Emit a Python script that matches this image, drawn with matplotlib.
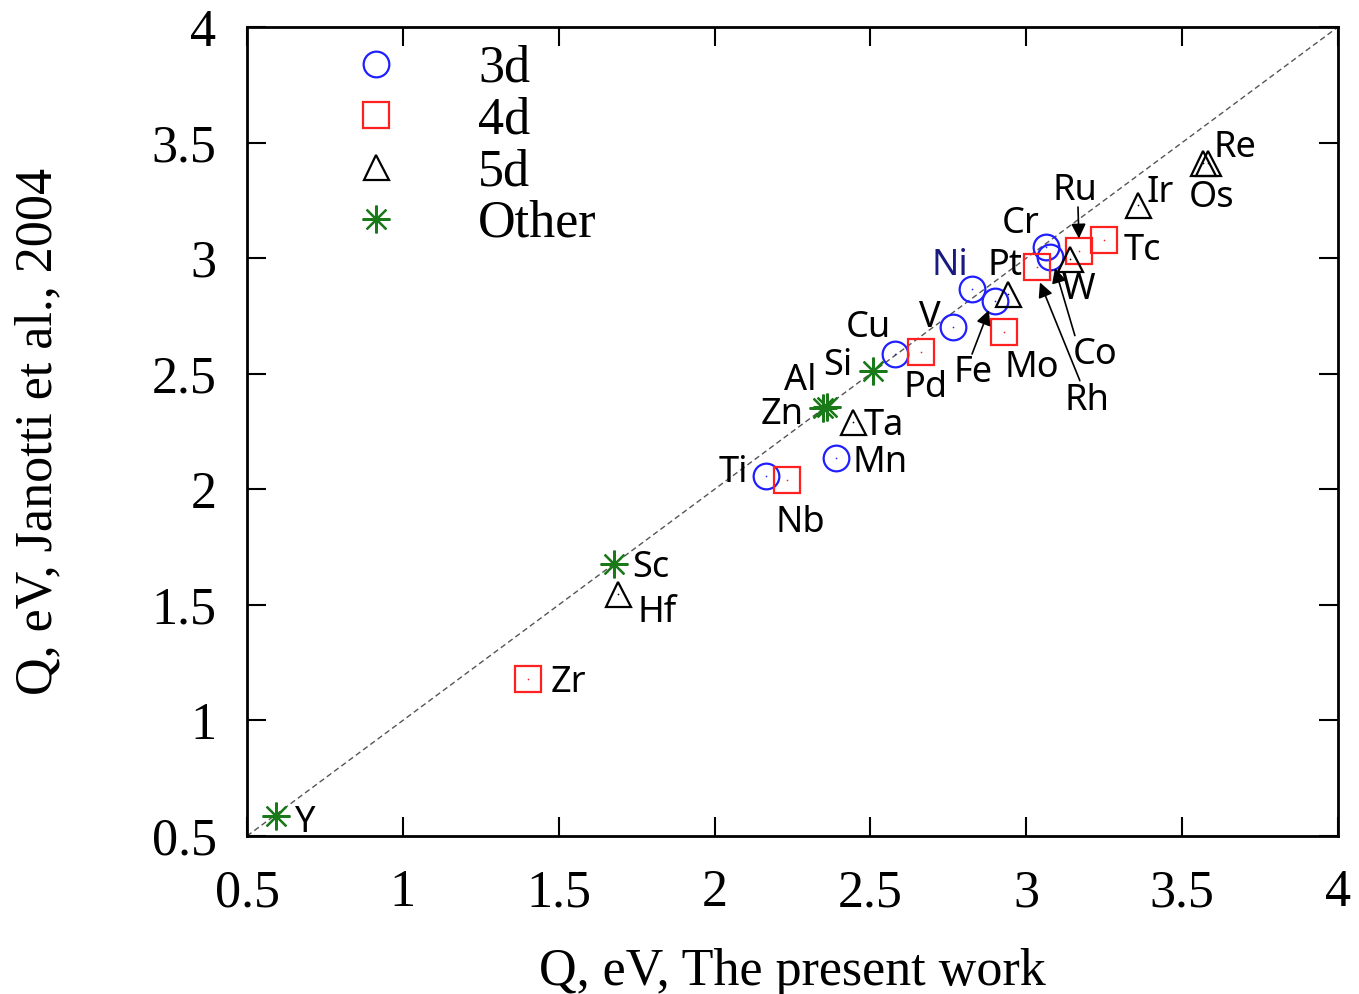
import matplotlib
matplotlib.use("Agg")
import matplotlib.pyplot as plt
import matplotlib.transforms as mtransforms

# ---- data (Q in eV): x = present work, y = Janotti et al., 2004 ----
names_3d = ["Ti", "Mn", "Cu", "V", "Ni", "Fe", "Cr", "Co"]
x_3d = [2.165, 2.39, 2.579, 2.765, 2.826, 2.90, 3.063, 3.076]
y_3d = [2.057, 2.135, 2.585, 2.70, 2.866, 2.814, 3.05, 3.006]

names_4d = ["Zr", "Nb", "Pd", "Mo", "Rh", "Ru", "Tc"]
x_4d = [1.40, 2.232, 2.662, 2.929, 3.035, 3.169, 3.249]
y_4d = [1.179, 2.04, 2.594, 2.68, 2.962, 3.03, 3.078]

names_5d = ["Hf", "Ta", "Pt", "W", "Ir", "Os", "Re"]
x_5d = [1.69, 2.444, 2.941, 3.14, 3.359, 3.567, 3.583]
y_5d = [1.545, 2.29, 2.845, 2.996, 3.23, 3.41, 3.41]

names_other = ["Y", "Sc", "Al", "Zn", "Si"]
x_other = [0.593, 1.677, 2.36, 2.348, 2.508]
y_other = [0.586, 1.676, 2.356, 2.35, 2.51]

ticks = [0.5, 1, 1.5, 2, 2.5, 3, 3.5, 4]
tick_labels = ["0.5", "1", "1.5", "2", "2.5", "3", "3.5", "4"]

# label text positions (data coords)
label_pos = {
    "Y": (0.686, 0.569), "Sc": (1.796, 1.672), "Hf": (1.815, 1.477),
    "Zr": (1.530, 1.174), "Ti": (2.059, 2.083), "Nb": (2.274, 1.867),
    "Mn": (2.531, 2.126), "Zn": (2.216, 2.334), "Ta": (2.544, 2.286),
    "Al": (2.274, 2.481), "Si": (2.396, 2.546), "Pd": (2.678, 2.451),
    "Cu": (2.492, 2.711), "V": (2.691, 2.754), "Ni": (2.755, 2.979),
    "Pt": (2.932, 2.979), "Cr": (2.983, 3.161), "Ru": (3.156, 3.303),
    "Ir": (3.429, 3.295), "Re": (3.670, 3.489), "Os": (3.593, 3.273),
    "Tc": (3.371, 3.044), "W": (3.166, 2.875), "Fe": (2.829, 2.516),
    "Mo": (3.018, 2.537), "Co": (3.221, 2.594), "Rh": (3.195, 2.395),
}
# arrows: label -> (tail, head)
arrows = {
    "Ru": ((3.166, 3.221), (3.169, 3.085)),
    "Fe": ((2.826, 2.585), (2.880, 2.775)),
    "Rh": ((3.172, 2.470), (3.044, 2.895)),
    "Co": ((3.156, 2.665), (3.092, 2.957)),
}

fig = plt.figure(figsize=(13.59, 9.94), dpi=100)
ax = fig.add_axes([0.1818, 0.159, 0.8027, 0.8138])

serif = ["Liberation Serif", "DejaVu Serif"]
sans = ["Noto Sans", "DejaVu Sans"]
fs = 37.5

ax.plot([0.5, 4], [0.5, 4], linestyle=(0, (4, 2.5)), color="#555555", lw=1.0, zorder=1)

ms = 18.5
mew = 1.6
series = [
    (x_3d, y_3d, "o", ms, "#1f1fff", "3d"),
    (x_4d, y_4d, "s", ms, "#ff2020", "4d"),
    (x_5d, y_5d, "^", ms - 0.5, "black", "5d"),
    (x_other, y_other, (8, 2, 0), ms + 1.5, "#1a7a1a", "Other"),
]
for xs, ys, mk, m, c, lab in series:
    ax.plot(xs, ys, linestyle="none", marker=mk, ms=m, mfc="none", mec=c, mew=mew, label=lab, zorder=3)
    ax.plot(xs, ys, linestyle="none", marker="o", ms=1.2, mfc=c, mec="none", zorder=3)

text_tr = mtransforms.offset_copy(ax.transData, fig=fig, x=0, y=-3, units="dots")
for n, (tx, ty) in label_pos.items():
    col = "#1a1a80" if n == "Ni" else "black"
    ax.text(tx, ty, n, fontsize=26, family=sans, color=col, ha="center", va="center",
            transform=text_tr, zorder=4)

for n, (tail, head) in arrows.items():
    ax.annotate("", xy=head, xytext=tail,
                arrowprops=dict(arrowstyle="-|>", color="black", lw=1.2,
                                mutation_scale=22, shrinkA=0, shrinkB=0), zorder=4)

ax.set_xlim(0.5, 4)
ax.set_ylim(0.5, 4)
ax.set_xticks(ticks)
ax.set_yticks(ticks)
ax.set_xticklabels(tick_labels, family=serif, fontsize=fs)
ax.set_yticklabels(tick_labels, family=serif, fontsize=fs)
ax.tick_params(axis="x", direction="in", length=14, width=1.5, top=True, pad=24)
ax.tick_params(axis="y", direction="in", length=14, width=1.5, right=True, pad=22)
for s in ax.spines.values():
    s.set_linewidth(2)

ax.set_xlabel("Q, eV, The present work", family=serif, fontsize=fs, labelpad=22)
ax.set_ylabel("Q, eV, Janotti et al., 2004", family=serif, fontsize=fs, labelpad=64)

leg = ax.legend(loc="upper left", bbox_to_anchor=(0.0756, 0.978), frameon=False,
                prop={"family": serif, "size": fs}, handlelength=1.8, handletextpad=1.05,
                labelspacing=0.07, borderpad=0, borderaxespad=0, numpoints=1)

fig.savefig("out.png", dpi=100)
